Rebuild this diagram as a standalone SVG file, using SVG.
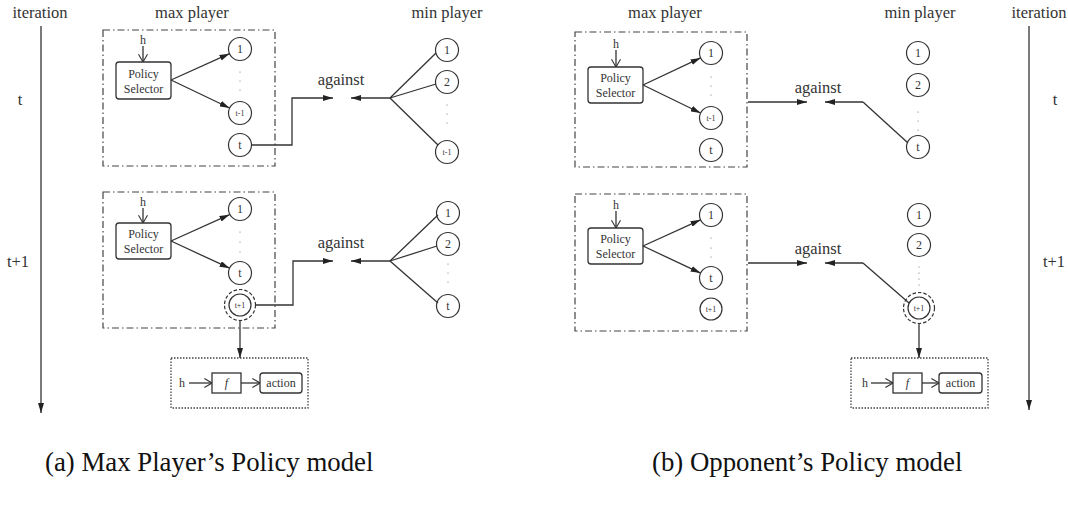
<svg xmlns="http://www.w3.org/2000/svg" width="1068" height="512" viewBox="0 0 1068 512">
<defs>
<style>
.t{font-family:"Liberation Serif","Times New Roman",serif;fill:#333;text-anchor:middle}
.lbl{font-size:16.5px}
.ps{font-size:12px}
.cl{font-size:12px}
.cs{font-size:8px}
.cap{font-size:26.8px;fill:#111;text-anchor:start}
.c{fill:#fff;stroke:#333;stroke-width:1.2}
.box{fill:none;stroke:#444;stroke-width:1.2;stroke-dasharray:7,3,1.5,3}
.dot{fill:none;stroke:#444;stroke-width:1.3;stroke-dasharray:1.5,1.5}
.ln{fill:none;stroke:#333;stroke-width:1.3}
.rb{fill:#fff;stroke:#333;stroke-width:1.3}
.dc{fill:none;stroke:#333;stroke-width:1.2;stroke-dasharray:3.5,2}
.dt{fill:#666}
</style>
<marker id="fa" viewBox="0 0 10 6" refX="10" refY="3" markerWidth="10" markerHeight="6" markerUnits="userSpaceOnUse" orient="auto"><path d="M0,0 L10,3 L0,6 z" fill="#222"/></marker>
<marker id="oa" viewBox="0 0 10 12" refX="9.5" refY="6" markerWidth="9" markerHeight="11" markerUnits="userSpaceOnUse" orient="auto"><path d="M1,1 L9.5,6 L1,11" fill="none" stroke="#333" stroke-width="1.2"/></marker>
</defs>
<rect width="1068" height="512" fill="#fff"/>

<!-- ===== Panel (a) ===== -->
<g id="a-axis">
<text class="t lbl" x="40" y="18">iteration</text>
<text class="t lbl" x="20" y="105">t</text>
<text class="t lbl" x="18" y="267">t+1</text>
</g>
<g id="a-headers">
<text class="t lbl" x="192" y="18">max player</text>
<text class="t lbl" x="447" y="18">min player</text>
</g>

<g id="a-top-max">
<rect class="box" x="103" y="30" width="172" height="136"/>
<text class="t ps" x="143" y="44">h</text>
<rect class="rb" x="116" y="62" width="55" height="37" rx="3"/>
<text class="t ps" x="143.5" y="78">Policy</text>
<text class="t ps" x="143.5" y="93">Selector</text>
<circle class="c" cx="240" cy="49" r="11.5"/><text class="t cl" x="240" y="53">1</text>
<circle class="dt" cx="240" cy="72" r="0.6"/><circle class="dt" cx="240" cy="81" r="0.6"/><circle class="dt" cx="240" cy="90" r="0.6"/>
<circle class="c" cx="240" cy="113" r="11.5"/><text class="t cs" x="240" y="116">t-1</text>
<circle class="c" cx="240" cy="145" r="11.5"/><text class="t cl" x="240" y="149">t</text>
</g>
<g id="a-top-min">
<circle class="c" cx="447" cy="50" r="11.5"/><text class="t cl" x="447" y="54">1</text>
<circle class="c" cx="447" cy="82" r="11.5"/><text class="t cl" x="447" y="86">2</text>
<circle class="dt" cx="447" cy="105" r="0.6"/><circle class="dt" cx="447" cy="114" r="0.6"/><circle class="dt" cx="447" cy="123" r="0.6"/>
<circle class="c" cx="447" cy="152" r="11.5"/><text class="t cs" x="447" y="155">t-1</text>
</g>
<g id="a-top-against"><text class="t lbl" x="341" y="85">against</text></g>

<g id="a-bot-max">
<rect class="box" x="103" y="192" width="172" height="136"/>
<text class="t ps" x="143" y="206">h</text>
<rect class="rb" x="116" y="223" width="55" height="36" rx="3"/>
<text class="t ps" x="143.5" y="238">Policy</text>
<text class="t ps" x="143.5" y="253">Selector</text>
<circle class="c" cx="240" cy="209" r="11.5"/><text class="t cl" x="240" y="213">1</text>
<circle class="dt" cx="240" cy="232" r="0.6"/><circle class="dt" cx="240" cy="242" r="0.6"/><circle class="dt" cx="240" cy="252" r="0.6"/>
<circle class="c" cx="240" cy="273" r="11.5"/><text class="t cl" x="240" y="277">t</text>
<circle class="dc" cx="240" cy="305" r="15.5"/>
<circle class="c" cx="240" cy="305" r="11"/><text class="t cs" x="240" y="308">t+1</text>
</g>
<g id="a-bot-min">
<circle class="c" cx="448" cy="213" r="11.5"/><text class="t cl" x="448" y="217">1</text>
<circle class="c" cx="448" cy="244" r="11.5"/><text class="t cl" x="448" y="248">2</text>
<circle class="dt" cx="448" cy="264" r="0.6"/><circle class="dt" cx="448" cy="273" r="0.6"/><circle class="dt" cx="448" cy="282" r="0.6"/>
<circle class="c" cx="448" cy="306" r="11.5"/><text class="t cl" x="448" y="310">t</text>
</g>
<g id="a-bot-against"><text class="t lbl" x="341" y="248">against</text></g>

<g id="a-fbox">
<rect class="dot" x="171" y="358" width="137" height="50"/>
<text class="t ps" x="182" y="387">h</text>
<rect class="rb" x="212" y="373" width="29" height="20"/>
<text class="t ps" x="226.5" y="387" font-style="italic">f</text>
<rect class="rb" x="260" y="373" width="42" height="20" rx="3"/>
<text class="t ps" x="281" y="387">action</text>
</g>

<g id="a-caption"><text class="t cap" x="45" y="471">(a)  Max Player’s Policy model</text></g>

<!-- ===== Panel (b) ===== -->
<g id="b-axis">
<text class="t lbl" x="1039" y="18">iteration</text>
<text class="t lbl" x="1055" y="105">t</text>
<text class="t lbl" x="1054" y="267">t+1</text>
</g>
<g id="b-headers">
<text class="t lbl" x="665" y="18">max player</text>
<text class="t lbl" x="920" y="18">min player</text>
</g>

<g id="b-top-max">
<rect class="box" x="575" y="32" width="172" height="135"/>
<text class="t ps" x="616" y="48">h</text>
<rect class="rb" x="588" y="67" width="55" height="36" rx="3"/>
<text class="t ps" x="615.5" y="82">Policy</text>
<text class="t ps" x="615.5" y="97">Selector</text>
<circle class="c" cx="711" cy="53" r="11.5"/><text class="t cl" x="711" y="57">1</text>
<circle class="dt" cx="711" cy="77" r="0.6"/><circle class="dt" cx="711" cy="86" r="0.6"/><circle class="dt" cx="711" cy="95" r="0.6"/>
<circle class="c" cx="711" cy="118" r="11.5"/><text class="t cs" x="711" y="121">t-1</text>
<circle class="c" cx="711" cy="150" r="11.5"/><text class="t cl" x="711" y="154">t</text>
</g>
<g id="b-top-min">
<circle class="c" cx="918" cy="53" r="11.5"/><text class="t cl" x="918" y="57">1</text>
<circle class="c" cx="918" cy="85" r="11.5"/><text class="t cl" x="918" y="89">2</text>
<circle class="dt" cx="918" cy="112" r="0.6"/><circle class="dt" cx="918" cy="121" r="0.6"/><circle class="dt" cx="918" cy="130" r="0.6"/>
<circle class="c" cx="918" cy="147" r="11.5"/><text class="t cl" x="918" y="151">t</text>
</g>
<g id="b-top-against"><text class="t lbl" x="818" y="93">against</text></g>

<g id="b-bot-max">
<rect class="box" x="575" y="194" width="172" height="137"/>
<text class="t ps" x="616" y="209">h</text>
<rect class="rb" x="588" y="228" width="55" height="36" rx="3"/>
<text class="t ps" x="615.5" y="243">Policy</text>
<text class="t ps" x="615.5" y="258">Selector</text>
<circle class="c" cx="711" cy="215" r="11.5"/><text class="t cl" x="711" y="219">1</text>
<circle class="dt" cx="711" cy="238" r="0.6"/><circle class="dt" cx="711" cy="248" r="0.6"/><circle class="dt" cx="711" cy="257" r="0.6"/>
<circle class="c" cx="711" cy="278" r="11.5"/><text class="t cl" x="711" y="282">t</text>
<circle class="c" cx="711" cy="309" r="11"/><text class="t cs" x="711" y="312">t+1</text>
</g>
<g id="b-bot-min">
<circle class="c" cx="919" cy="215" r="11.5"/><text class="t cl" x="919" y="219">1</text>
<circle class="c" cx="919" cy="245" r="11.5"/><text class="t cl" x="919" y="249">2</text>
<circle class="dt" cx="919" cy="267" r="0.6"/><circle class="dt" cx="919" cy="273" r="0.6"/><circle class="dt" cx="919" cy="279" r="0.6"/><circle class="dt" cx="919" cy="285" r="0.6"/>
<circle class="dc" cx="919" cy="308" r="15.5"/>
<circle class="c" cx="919" cy="308" r="11"/><text class="t cs" x="919" y="311">t+1</text>
</g>
<g id="b-bot-against"><text class="t lbl" x="818" y="254">against</text></g>

<g id="b-fbox">
<rect class="dot" x="851" y="358" width="137" height="50"/>
<text class="t ps" x="865" y="387">h</text>
<rect class="rb" x="893" y="373" width="29" height="20"/>
<text class="t ps" x="907.5" y="387" font-style="italic">f</text>
<rect class="rb" x="939" y="373" width="43" height="20" rx="3"/>
<text class="t ps" x="960.5" y="387">action</text>
</g>

<g id="b-caption"><text class="t cap" x="652" y="471">(b)  Opponent’s Policy model</text></g>

<!-- ===== Connectors ===== -->
<g id="connectors" class="ln">
<!-- axes -->
<line x1="41" y1="26" x2="41" y2="413" marker-end="url(#fa)"/>
<line x1="1029" y1="26" x2="1029" y2="410" marker-end="url(#fa)"/>

<!-- (a) top -->
<line x1="143" y1="46" x2="143" y2="62" marker-end="url(#oa)"/>
<line x1="171" y1="80" x2="229.5" y2="53.7" marker-end="url(#fa)"/>
<line x1="171" y1="80" x2="229.6" y2="108" marker-end="url(#fa)"/>
<polyline points="252,145 292,145 292,98 333,98" marker-end="url(#fa)"/>
<line x1="390" y1="98" x2="351" y2="98" marker-end="url(#fa)"/>
<line x1="390" y1="98" x2="436" y2="53"/>
<line x1="390" y1="98" x2="436" y2="84"/>
<line x1="390" y1="98" x2="438" y2="145"/>

<!-- (a) bottom -->
<line x1="143" y1="208" x2="143" y2="223" marker-end="url(#oa)"/>
<line x1="171" y1="241" x2="229.5" y2="214.7" marker-end="url(#fa)"/>
<line x1="171" y1="241" x2="229.6" y2="268.2" marker-end="url(#fa)"/>
<polyline points="255.5,305 293,305 293,261 333,261" marker-end="url(#fa)"/>
<line x1="390" y1="261" x2="351" y2="261" marker-end="url(#fa)"/>
<line x1="390" y1="261" x2="438" y2="215"/>
<line x1="390" y1="261" x2="437" y2="246"/>
<line x1="390" y1="261" x2="438" y2="303"/>
<line x1="240" y1="320.5" x2="240" y2="358" marker-end="url(#fa)"/>
<line x1="189" y1="383" x2="212" y2="383" marker-end="url(#oa)"/>
<line x1="241" y1="383" x2="260" y2="383" marker-end="url(#oa)"/>

<!-- (b) top -->
<line x1="616" y1="50" x2="616" y2="67" marker-end="url(#oa)"/>
<line x1="643" y1="85" x2="700.6" y2="57.9" marker-end="url(#fa)"/>
<line x1="643" y1="85" x2="700.6" y2="113" marker-end="url(#fa)"/>
<line x1="748" y1="102" x2="807" y2="102" marker-end="url(#fa)"/>
<line x1="863" y1="102" x2="825" y2="102" marker-end="url(#fa)"/>
<line x1="863" y1="102" x2="908" y2="143"/>

<!-- (b) bottom -->
<line x1="616" y1="211" x2="616" y2="228" marker-end="url(#oa)"/>
<line x1="643" y1="246" x2="700.5" y2="219.8" marker-end="url(#fa)"/>
<line x1="643" y1="246" x2="700.6" y2="273.1" marker-end="url(#fa)"/>
<line x1="748" y1="263" x2="807" y2="263" marker-end="url(#fa)"/>
<line x1="863" y1="263" x2="825" y2="263" marker-end="url(#fa)"/>
<line x1="863" y1="263" x2="909" y2="303"/>
<line x1="919" y1="323.5" x2="919" y2="358" marker-end="url(#fa)"/>
<line x1="871" y1="383" x2="893" y2="383" marker-end="url(#oa)"/>
<line x1="922" y1="383" x2="939" y2="383" marker-end="url(#oa)"/>
</g>
</svg>
